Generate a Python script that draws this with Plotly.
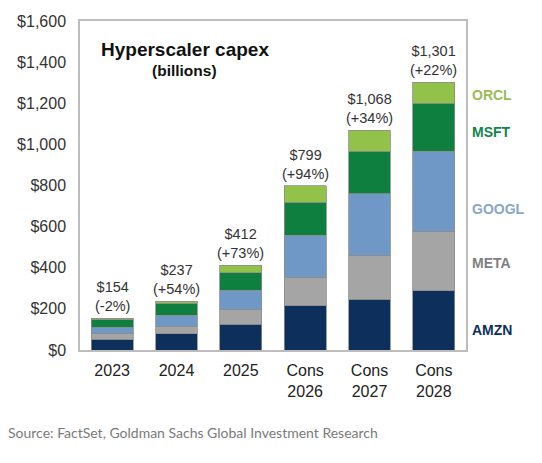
import plotly.graph_objects as go

categories = ["2023", "2024", "2025", "Cons<br>2026", "Cons<br>2027", "Cons<br>2028"]
amzn = [52, 78, 125, 215, 247, 288]
meta = [26, 38, 72, 140, 213, 290]
googl = [32, 53, 94, 202, 300, 388]
msft = [37, 58, 84, 162, 206, 233]
orcl = [7, 10, 37, 80, 102, 102]
totals = [154, 237, 412, 799, 1068, 1301]
growth = ["-2%", "+54%", "+73%", "+94%", "+34%", "+22%"]
y_ticks = [0, 200, 400, 600, 800, 1000, 1200, 1400, 1600]
y_tick_labels = ["$" + f"{v:,}" for v in y_ticks]

series = [
    ("AMZN", amzn, "#0c2f5c", "#0c2f5c"),
    ("META", meta, "#a5a5a5", "#7f7f7f"),
    ("GOOGL", googl, "#7098c6", "#8aa6c6"),
    ("MSFT", msft, "#0e7f3f", "#12854a"),
    ("ORCL", orcl, "#92c24a", "#9bbb59"),
]
label_y_paper = {"ORCL": 0.775, "MSFT": 0.664, "GOOGL": 0.430, "META": 0.263, "AMZN": 0.061}

fig = go.Figure()
for name, vals, col, _ in series:
    fig.add_trace(go.Bar(
        x=categories, y=vals, name=name, marker_color=col,
        marker_line_color="#8c8c8c", marker_line_width=0.8,
        width=0.65, showlegend=False, hoverinfo="skip",
    ))

annotations = []
for i, (t, g) in enumerate(zip(totals, growth)):
    annotations.append(dict(
        x=i, y=t, xref="x", yref="y", text=f"${t:,}<br>({g})",
        showarrow=False, yanchor="bottom", yshift=2,
        font=dict(family="Liberation Sans, Arial", size=14.5, color="#333333"),
    ))
for name, _, _, tcol in series:
    annotations.append(dict(
        x=1, y=label_y_paper[name], xref="paper", yref="paper", text=f"<b>{name}</b>",
        showarrow=False, xanchor="left", yanchor="middle", xshift=4,
        font=dict(family="Liberation Sans, Arial", size=14, color=tcol),
    ))
annotations.append(dict(
    x=0.272, y=0.912, xref="paper", yref="paper", xanchor="center", yanchor="middle",
    text="<b>Hyperscaler capex</b>",
    showarrow=False, font=dict(family="Liberation Sans, Arial", size=19, color="#111111"),
))
annotations.append(dict(
    x=0.272, y=0.851, xref="paper", yref="paper", xanchor="center", yanchor="middle",
    text="<b>(billions)</b>",
    showarrow=False, font=dict(family="Liberation Sans, Arial", size=15.5, color="#111111"),
))
annotations.append(dict(
    x=(6 - 80) / 386, y=(350 - 432) / 329, xref="paper", yref="paper",
    xanchor="left", yanchor="middle",
    text="Source: FactSet, Goldman Sachs Global Investment Research",
    showarrow=False, font=dict(family="Lato", size=14, color="#7a7a7a"),
))

fig.update_layout(
    barmode="stack",
    width=542, height=463,
    margin=dict(l=80, r=76, t=21, b=113),
    paper_bgcolor="white", plot_bgcolor="white",
    font=dict(family="Liberation Sans, Arial", size=16, color="#333333"),
    annotations=annotations,
    hovermode=False,
    xaxis=dict(
        type="category", range=[-0.5, len(categories) - 0.5],
        showline=True, linecolor="#bdbdbd", linewidth=1.5, mirror=True,
        ticks="", ticklabelstandoff=5,
        tickfont=dict(size=16, color="#222222"), fixedrange=True,
    ),
    yaxis=dict(
        range=[0, 1600], tickvals=y_ticks, ticktext=y_tick_labels,
        showgrid=False, zeroline=False, showline=True, linecolor="#bdbdbd", linewidth=1.5,
        mirror=True, ticks="", ticklabelstandoff=9, fixedrange=True,
        tickfont=dict(size=16, color="#333333"),
    ),
)

fig.write_html("out.html", config={"displayModeBar": False},
               post_script="document.body.style.margin='0';")
